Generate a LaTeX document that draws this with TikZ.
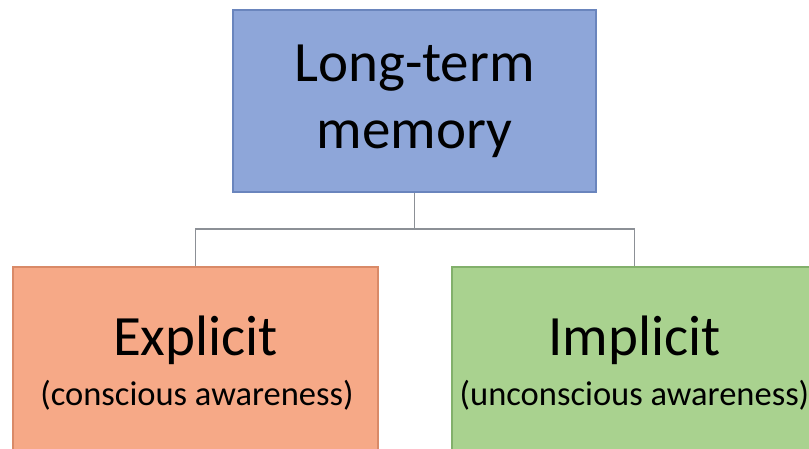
\documentclass[tikz,border=0pt]{standalone}
\usepackage{fontspec}
\setmainfont{Carlito}
\definecolor{topfill}{HTML}{8EA6D9}
\definecolor{topline}{HTML}{6A85BD}
\definecolor{leftfill}{HTML}{F6A987}
\definecolor{leftline}{HTML}{D98A68}
\definecolor{rightfill}{HTML}{A9D28F}
\definecolor{rightline}{HTML}{82B06B}
\definecolor{conn}{HTML}{8C9096}
\begin{document}
\begin{tikzpicture}[x=1pt,y=-1pt,
  box/.style={draw, line width=1.2pt, rectangle, align=center, inner sep=0pt, text=black},
  bigtext/.style={anchor=base, inner sep=0pt, font=\fontsize{57}{67}\selectfont},
  smalltext/.style={anchor=base, inner sep=0pt, font=\fontsize{34.5}{40}\selectfont},
  connline/.style={draw=conn, line width=1.8pt}]
\useasboundingbox (0,0) rectangle (809,449);
\clip (0,0) rectangle (809,449);
\node[box, fill=topfill, draw=topline, minimum width=363pt, minimum height=182pt,
  font=\fontsize{57}{67}\selectfont] (top) at (414.5,101) {Long-term\\memory};
\node[box, fill=leftfill, draw=leftline, minimum width=365pt, minimum height=198pt] (left) at (195.5,366) {};
\node[box, fill=rightfill, draw=rightline, minimum width=365pt, minimum height=198pt] (right) at (634.5,366) {};
\node[bigtext] (lt1) at (195.5,355) {Explicit};
\node[smalltext] (lt2) at (197,405) {(conscious awareness)};
\node[bigtext] (rt1) at (634.5,355) {Implicit};
\node[smalltext] (rt2) at (634.5,405) {(unconscious awareness)};
\coordinate (mid) at (414.5,229);
\draw[connline] (top.south) -- (mid);
\draw[connline] (left.north) |- (mid) -| (right.north);
\end{tikzpicture}
\end{document}
